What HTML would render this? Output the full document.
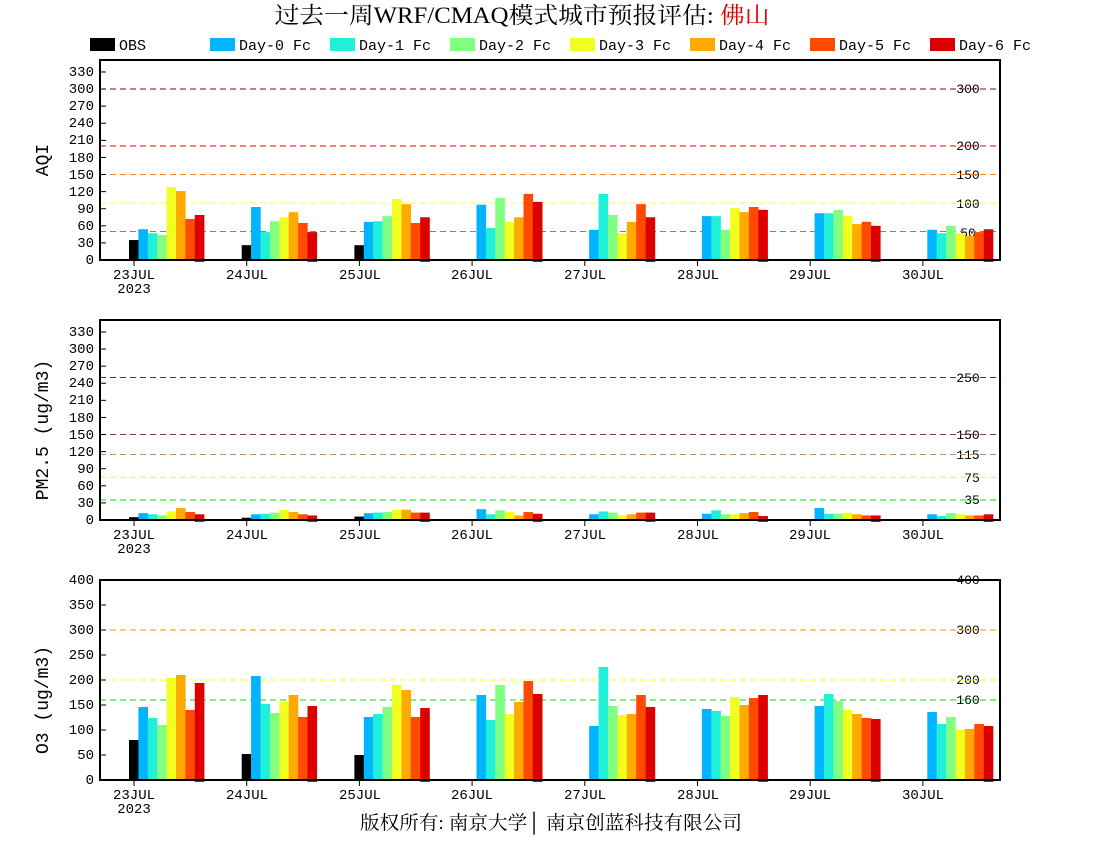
<!DOCTYPE html>
<html><head><meta charset="utf-8"><style>
body{margin:0;background:#fff;}
svg text{font-family:"Liberation Serif","Noto Serif CJK SC",serif;}
svg .m{font-family:"Liberation Mono","Noto Serif CJK SC",monospace;}
</style></head><body>
<svg id="s" width="1100" height="850" xmlns="http://www.w3.org/2000/svg">
<text x="522" y="23" font-size="23" text-anchor="middle" fill="#000" textLength="495" lengthAdjust="spacingAndGlyphs">过去一周WRF/CMAQ模式城市预报评估: <tspan fill="#e00000">佛山</tspan></text>
<g font-size="15" fill="#000" class="m">
<rect x="90" y="38" width="25" height="13" fill="#000"/><text class="m" x="119" y="50">OBS</text>
<rect x="210" y="38" width="25" height="13" fill="#00b4ff"/><text class="m" x="239" y="50">Day-0 Fc</text>
<rect x="330" y="38" width="25" height="13" fill="#20f0d8"/><text class="m" x="359" y="50">Day-1 Fc</text>
<rect x="450" y="38" width="25" height="13" fill="#80ff80"/><text class="m" x="479" y="50">Day-2 Fc</text>
<rect x="570" y="38" width="25" height="13" fill="#f0ff20"/><text class="m" x="599" y="50">Day-3 Fc</text>
<rect x="690" y="38" width="25" height="13" fill="#ffaa00"/><text class="m" x="719" y="50">Day-4 Fc</text>
<rect x="810" y="38" width="25" height="13" fill="#ff4a00"/><text class="m" x="839" y="50">Day-5 Fc</text>
<rect x="930" y="38" width="25" height="13" fill="#dd0000"/><text class="m" x="959" y="50">Day-6 Fc</text>
</g>
<text transform="translate(48,160) rotate(-90)" font-size="18" text-anchor="middle" class="m">AQI</text>
<text transform="translate(48,430) rotate(-90)" font-size="18" text-anchor="middle" class="m">PM2.5 (ug/m3)</text>
<text transform="translate(48,700) rotate(-90)" font-size="18" text-anchor="middle" class="m">O3 (ug/m3)</text>
<g font-size="14" text-anchor="end">
<text class="m" x="94" y="264">0</text><text class="m" x="94" y="247">30</text><text class="m" x="94" y="230">60</text><text class="m" x="94" y="213">90</text><text class="m" x="94" y="196">120</text><text class="m" x="94" y="179">150</text><text class="m" x="94" y="162">180</text><text class="m" x="94" y="144">210</text><text class="m" x="94" y="127">240</text><text class="m" x="94" y="110">270</text><text class="m" x="94" y="93">300</text><text class="m" x="94" y="76">330</text>
<text class="m" x="94" y="524">0</text><text class="m" x="94" y="507">30</text><text class="m" x="94" y="490">60</text><text class="m" x="94" y="473">90</text><text class="m" x="94" y="456">120</text><text class="m" x="94" y="439">150</text><text class="m" x="94" y="422">180</text><text class="m" x="94" y="404">210</text><text class="m" x="94" y="387">240</text><text class="m" x="94" y="370">270</text><text class="m" x="94" y="353">300</text><text class="m" x="94" y="336">330</text>
<text class="m" x="94" y="784">0</text><text class="m" x="94" y="759">50</text><text class="m" x="94" y="734">100</text><text class="m" x="94" y="709">150</text><text class="m" x="94" y="684">200</text><text class="m" x="94" y="659">250</text><text class="m" x="94" y="634">300</text><text class="m" x="94" y="609">350</text><text class="m" x="94" y="584">400</text>
</g>
<g font-size="13" text-anchor="middle">
<text class="m" x="968" y="93">300</text><text class="m" x="968" y="150">200</text><text class="m" x="968" y="179">150</text><text class="m" x="968" y="208">100</text><text class="m" x="968" y="237">50</text>
<text class="m" x="968" y="382">250</text><text class="m" x="968" y="439">150</text><text class="m" x="968" y="459">115</text><text class="m" x="972" y="482">75</text><text class="m" x="972" y="504">35</text>
<text class="m" x="968" y="584">400</text><text class="m" x="968" y="634">300</text><text class="m" x="968" y="684">200</text><text class="m" x="968" y="704">160</text>
</g>
<g font-size="14" text-anchor="middle">
<text class="m" x="134" y="279">23JUL</text><text class="m" x="134" y="293">2023</text><text class="m" x="247" y="279">24JUL</text><text class="m" x="360" y="279">25JUL</text><text class="m" x="472" y="279">26JUL</text><text class="m" x="585" y="279">27JUL</text><text class="m" x="698" y="279">28JUL</text><text class="m" x="810" y="279">29JUL</text><text class="m" x="923" y="279">30JUL</text>
<text class="m" x="134" y="539">23JUL</text><text class="m" x="134" y="553">2023</text><text class="m" x="247" y="539">24JUL</text><text class="m" x="360" y="539">25JUL</text><text class="m" x="472" y="539">26JUL</text><text class="m" x="585" y="539">27JUL</text><text class="m" x="698" y="539">28JUL</text><text class="m" x="810" y="539">29JUL</text><text class="m" x="923" y="539">30JUL</text>
<text class="m" x="134" y="799">23JUL</text><text class="m" x="134" y="813">2023</text><text class="m" x="247" y="799">24JUL</text><text class="m" x="360" y="799">25JUL</text><text class="m" x="472" y="799">26JUL</text><text class="m" x="585" y="799">27JUL</text><text class="m" x="698" y="799">28JUL</text><text class="m" x="810" y="799">29JUL</text><text class="m" x="923" y="799">30JUL</text>
</g>
<text x="551" y="829" font-size="19" text-anchor="middle" textLength="382" lengthAdjust="spacingAndGlyphs">版权所有: 南京大学│ 南京创蓝科技有限公司</text>
<g id="g"></g>
</svg>
<script>
var C=["#000","#00b4ff","#20f0d8","#80ff80","#f0ff20","#ffaa00","#ff4a00","#dd0000"];
var A=[[35,54,47,44,128,121,72,79],[26,93,49,68,75,84,65,49],[26,67,68,77,107,98,65,75],[null,97,56,109,67,75,116,102],[null,53,116,79,47,67,98,75],[null,77,77,53,91,84,93,88],[null,82,82,88,77,63,67,60],[null,53,47,60,47,42,49,54]];
var P=[[5,12,10,8,15,21,14,10],[4,10,11,13,18,14,10,8],[6,12,13,14,18,18,13,13],[null,19,10,17,14,8,14,11],[null,10,15,13,8,10,13,13],[null,11,17,10,10,12,14,7],[null,21,11,11,13,10,8,8],[null,10,7,12,10,8,8,10]];
var O=[[80,146,124,110,204,210,140,194],[52,208,152,134,156,170,126,148],[50,126,132,146,190,180,126,144],[null,170,120,190,132,156,198,172],[null,108,226,148,130,132,170,146],[null,142,138,128,166,150,164,170],[null,148,172,158,140,132,124,122],[null,136,112,126,100,102,112,108]];
var h='';
function panel(top,data,sc,lines,ticks){
 var b=top+200;
 lines.forEach(function(l){var y=b-l[0]*sc;h+='<line x1="100" x2="1000" y1="'+y+'" y2="'+y+'" stroke="'+l[1]+'" '+(l[2]?'stroke-width="2"':'stroke-dasharray="6,4" stroke-width="1"')+'/>';});
 data.forEach(function(d,i){var x0=129+112.7*i;d.forEach(function(v,k){if(v==null)return;var hh=v*sc;h+='<rect x="'+(x0+k*9.4)+'" y="'+(b-hh)+'" width="9.6" height="'+(hh+(k==7?2:0))+'" fill="'+C[k]+'"/>';});
 var tx=134+112.7*i;h+='<line x1="'+tx+'" x2="'+tx+'" y1="'+b+'" y2="'+(b+6)+'" stroke="#000"/>';});
 ticks.forEach(function(t){var y=b-t*sc;h+='<line x1="100" x2="106" y1="'+y+'" y2="'+y+'" stroke="#000"/>';});
 h+='<rect x="100" y="'+top+'" width="900" height="200" fill="none" stroke="#000" stroke-width="2"/>';
}
var s1=200/351,t1=[];for(var i=0;i<=330;i+=30)t1.push(i);
panel(60,A,s1,[[300,"#800030"],[200,"#ff0000"],[150,"#ff8020"],[100,"#ffff40"],[50,"#00dd00"]],t1);
panel(320,P,s1,[[250,"#a00060"],[150,"#804040"],[115,"#b09070"],[75,"#ffff00"],[35,"#00dd00"]],t1);
var t3=[];for(i=0;i<=400;i+=50)t3.push(i);
panel(580,O,0.5,[[400,"#ff0000",1],[300,"#ff9000"],[200,"#ffff00"],[160,"#00dd00"]],t3);
document.getElementById('g').innerHTML=h;
</script>
</body></html>
